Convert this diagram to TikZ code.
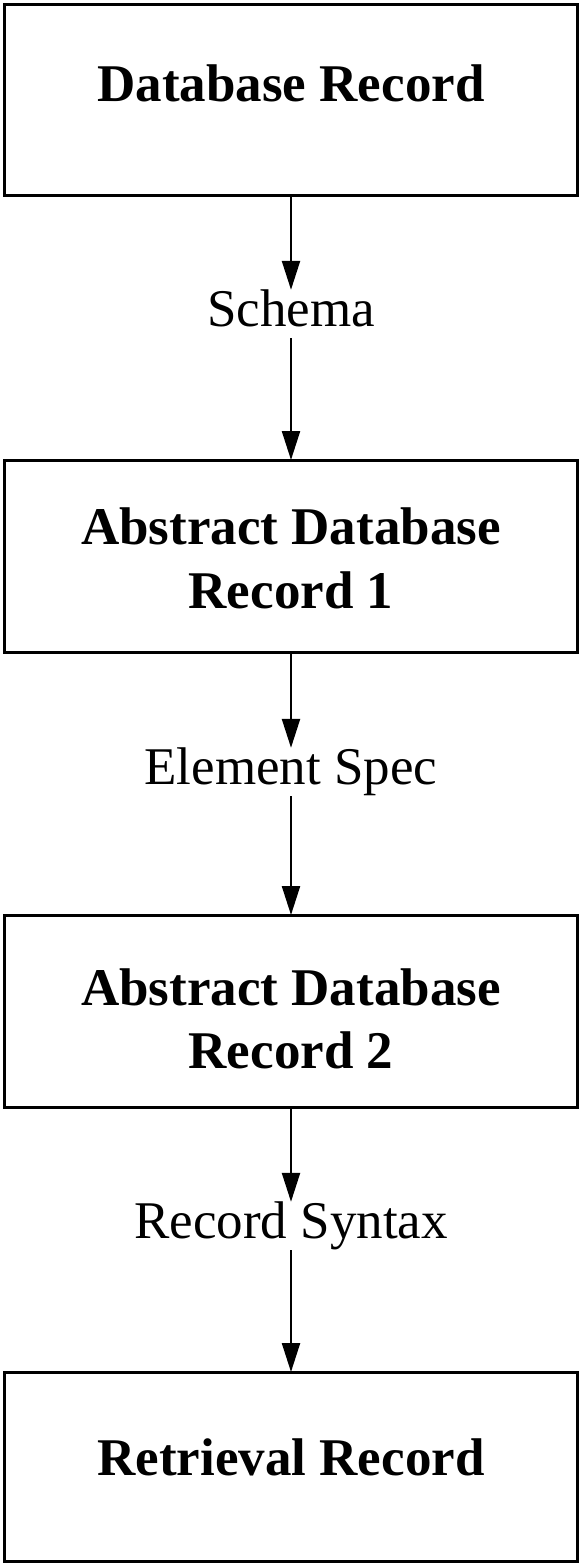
\documentclass[tikz,border=0pt]{standalone}
\usepackage{fontspec}
\setmainfont{Liberation Serif}
\usetikzlibrary{arrows.meta}
\begin{document}
\begin{tikzpicture}[x=1pt,y=-1pt,
  box/.style={draw, line width=3pt, minimum width=572.5pt, inner sep=0pt, outer sep=0pt},
  title/.style={anchor=base, inner sep=0pt, font=\fontsize{53pt}{59pt}\selectfont\bfseries},
  lbl/.style={anchor=base, inner sep=0pt, text height=36pt, text depth=12pt, font=\fontsize{53pt}{59pt}\selectfont},
  conn/.style={line width=2.3pt, -{Triangle[width=18pt,length=29pt]}}]
\useasboundingbox (0,0) rectangle (581,1564);
% boxes
\node[box, minimum height=190.5pt] (b1) at (290.75,99.75) {};
\node[box, minimum height=192pt] (b2) at (290.75,556) {};
\node[box, minimum height=192pt] (b3) at (290.75,1011) {};
\node[box, minimum height=189pt] (b4) at (290.75,1466.5) {};
% box texts
\node[title] (t1) at (291,101) {Database Record};
\node[title] (t2a) at (291,544) {Abstract Database};
\node[title] (t2b) at (291,608) {Record 1};
\node[title] (t3a) at (291,1005) {Abstract Database};
\node[title] (t3b) at (291,1068) {Record 2};
\node[title] (t4) at (291,1475) {Retrieval Record};
% labels
\node[lbl] (l1) at (291,326) {Schema};
\node[lbl] (l2) at (291,784) {Element Spec};
\node[lbl] (l3) at (291,1238) {Record Syntax};
% connectors
\draw[conn] (b1.south -| l1.north) -- (l1.north);
\draw[conn] (l1.south) -- (l1.south |- b2.north);
\draw[conn] (b2.south -| l2.north) -- (l2.north);
\draw[conn] (l2.south) -- (l2.south |- b3.north);
\draw[conn] (b3.south -| l3.north) -- (l3.north);
\draw[conn] (l3.south) -- (l3.south |- b4.north);
\end{tikzpicture}
\end{document}
